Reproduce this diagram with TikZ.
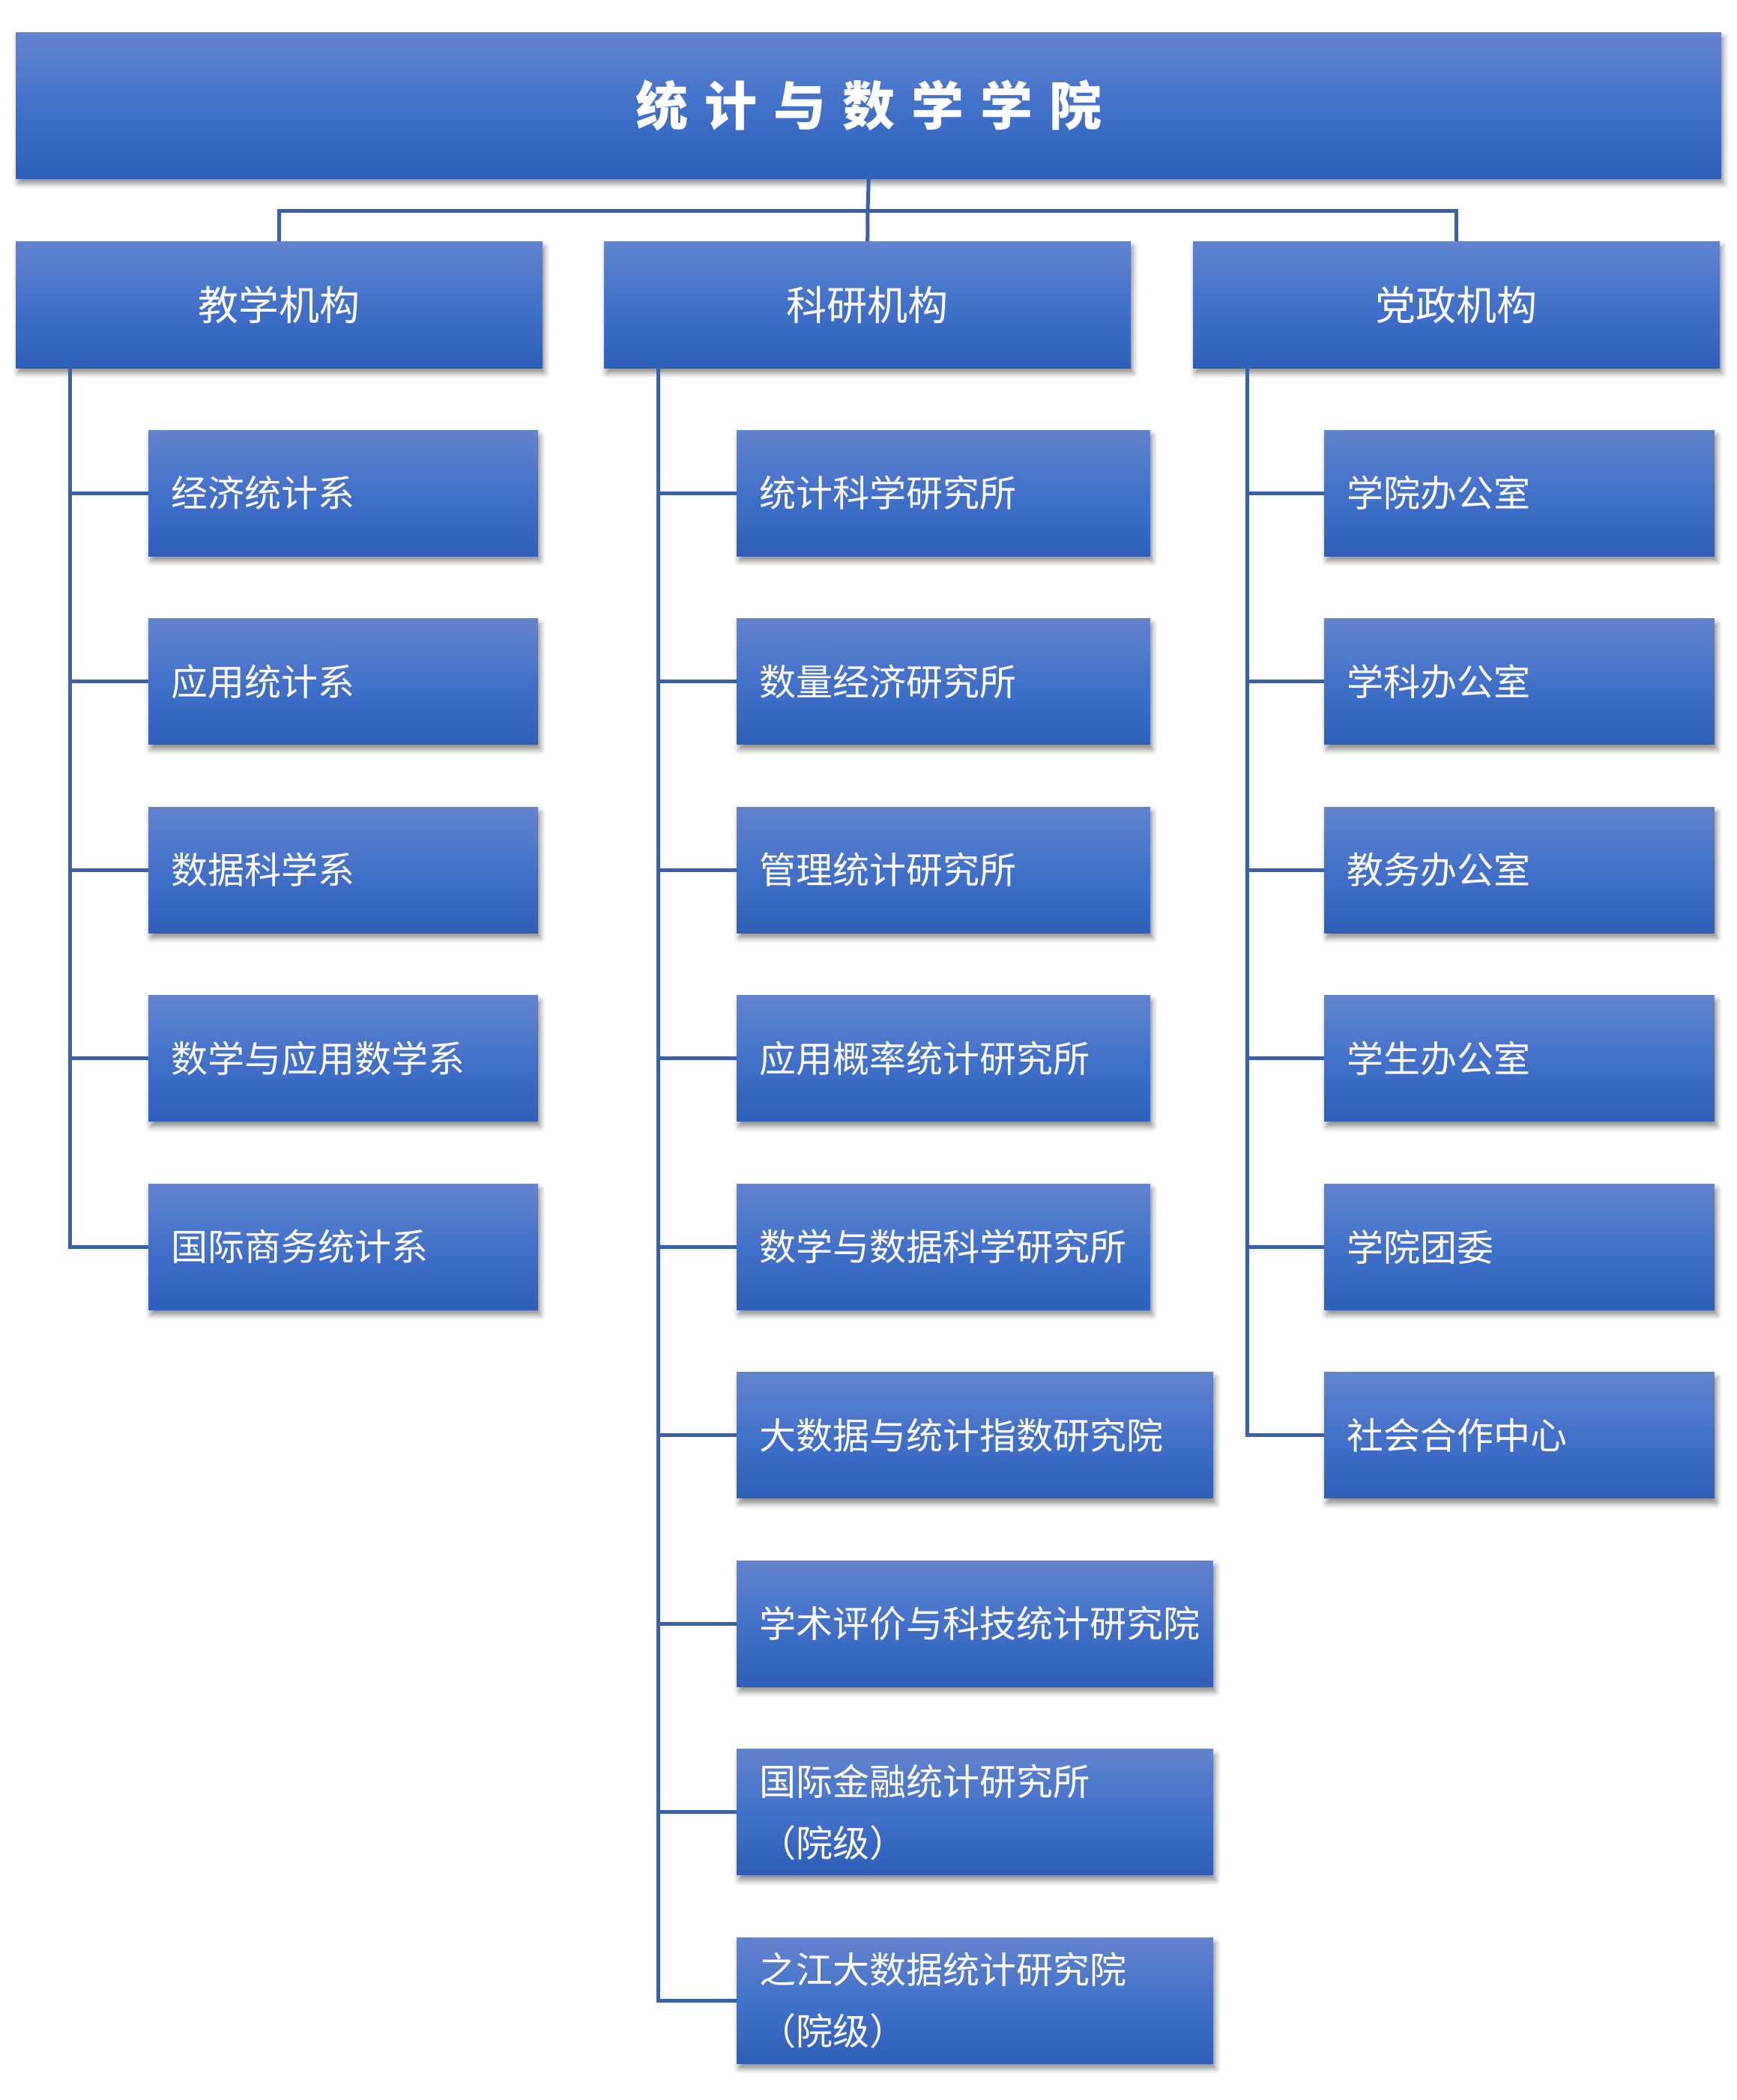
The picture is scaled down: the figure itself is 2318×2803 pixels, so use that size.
\documentclass[tikz,border=0pt]{standalone}
\usepackage{fontspec}
\newfontfamily\cjk{Noto Sans CJK SC}
\usetikzlibrary{shadows.blur}
\definecolor{boxtop}{RGB}{98,132,205}
\definecolor{boxmid}{RGB}{66,113,202}
\definecolor{boxbot}{RGB}{46,95,185}
\definecolor{linecol}{RGB}{58,96,170}
\begin{document}
\begin{tikzpicture}[x=1pt,y=-1pt,
  box/.style={anchor=north west, rectangle, inner sep=0pt, top color=boxtop, bottom color=boxbot, middle color=boxmid,
    blur shadow={shadow xshift=3pt, shadow yshift=-7pt, shadow blur radius=7pt, shadow opacity=45},
    text=white},
  titlebox/.style={box, minimum width=2276pt, minimum height=195pt, font=\cjk\bfseries\fontsize{70}{74}\selectfont},
  headbox/.style={box, minimum width=703pt, minimum height=169pt, font=\cjk\fontsize{54}{60}\selectfont},
  childbox/.style={box, inner xsep=30pt, minimum height=168pt, align=left, font=\cjk\fontsize{49}{82}\selectfont},
  cola/.style={childbox, text width=460pt},
  colb/.style={childbox, text width=492pt},
  colbw/.style={childbox, text width=576pt},
  colc/.style={childbox, text width=461pt},
  conn/.style={draw=linecol, line width=5pt}
]
\useasboundingbox (0,0) rectangle (2318,2803);

\node[titlebox] (top) at (21,43) {\raisebox{8pt}{统\hspace{22pt}计\hspace{22pt}与\hspace{22pt}数\hspace{22pt}学\hspace{22pt}学\hspace{22pt}院}};

\node[headbox] (h1) at (21,322) {\raisebox{4pt}{教学机构}};
\node[headbox] (h2) at (806,322) {\raisebox{4pt}{科研机构}};
\node[headbox] (h3) at (1592,322) {\raisebox{4pt}{党政机构}};

% column 1
\node[cola] (a1) at (198,574) {经济统计系};
\node[cola] (a2) at (198,825.5) {应用统计系};
\node[cola] (a3) at (198,1077) {数据科学系};
\node[cola] (a4) at (198,1328.5) {数学与应用数学系};
\node[cola] (a5) at (198,1580) {国际商务统计系};

% column 2
\node[colb] (b1) at (983,574) {统计科学研究所};
\node[colb] (b2) at (983,825.5) {数量经济研究所};
\node[colb] (b3) at (983,1077) {管理统计研究所};
\node[colb] (b4) at (983,1328.5) {应用概率统计研究所};
\node[colb] (b5) at (983,1580) {数学与数据科学研究所};
\node[colbw] (b6) at (983,1831.5) {大数据与统计指数研究院};
\node[colbw] (b7) at (983,2083) {学术评价与科技统计研究院};
\node[colbw] (b8) at (983,2334.5) {国际金融统计研究所\\（院级）};
\node[colbw] (b9) at (983,2586) {之江大数据统计研究院\\（院级）};

% column 3
\node[colc] (c1) at (1767,574) {学院办公室};
\node[colc] (c2) at (1767,825.5) {学科办公室};
\node[colc] (c3) at (1767,1077) {教务办公室};
\node[colc] (c4) at (1767,1328.5) {学生办公室};
\node[colc] (c5) at (1767,1580) {学院团委};
\node[colc] (c6) at (1767,1831.5) {社会合作中心};

% connectors
\coordinate (bus) at (1158,281);
\coordinate (va) at (93,491);
\coordinate (vb) at (878,491);
\coordinate (vc) at (1664,491);

\draw[conn] (top.south) -- (bus);
\draw[conn] (h1.north) |- (bus) -| (h3.north);
\draw[conn] (bus) -- (h2.north);

\draw[conn] (va) |- (a5.west);
\foreach \n in {a1,a2,a3,a4} \draw[conn] (va |- \n.west) -- (\n.west);

\draw[conn] (vb) |- (b9.west);
\foreach \n in {b1,b2,b3,b4,b5,b6,b7,b8} \draw[conn] (vb |- \n.west) -- (\n.west);

\draw[conn] (vc) |- (c6.west);
\foreach \n in {c1,c2,c3,c4,c5} \draw[conn] (vc |- \n.west) -- (\n.west);
\end{tikzpicture}
\end{document}
